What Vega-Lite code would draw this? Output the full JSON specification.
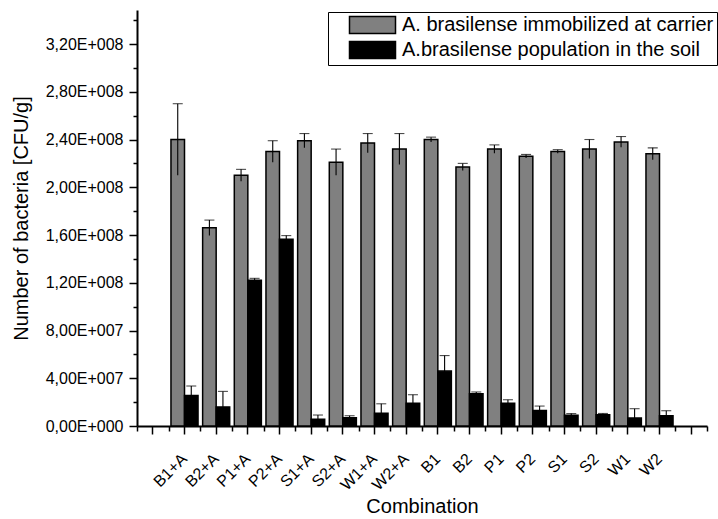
{
  "$schema": "https://vega.github.io/schema/vega-lite/v6.json",
  "width": 570,
  "height": 416,
  "autosize": {"type": "none"},
  "padding": {"left": 137, "top": 10, "right": 11, "bottom": 93},
  "config": {
    "view": {"stroke": null},
    "font": "Liberation Sans",
    "axis": {"labelFont": "Liberation Sans", "titleFont": "Liberation Sans", "labelColor": "black", "titleColor": "black", "domainColor": "black", "tickColor": "black", "grid": false, "titleFontWeight": "normal"},
    "legend": {"labelFont": "Liberation Sans"}
  },
  "data": {"values": [
    {"combo": "B1+A", "series": "A. brasilense immobilized at carrier", "value": 240000000, "lo": 210000000, "hi": 270000000},
    {"combo": "B2+A", "series": "A. brasilense immobilized at carrier", "value": 166000000, "lo": 159500000, "hi": 172500000},
    {"combo": "P1+A", "series": "A. brasilense immobilized at carrier", "value": 210000000, "lo": 205000000, "hi": 215000000},
    {"combo": "P2+A", "series": "A. brasilense immobilized at carrier", "value": 230000000, "lo": 221000000, "hi": 239000000},
    {"combo": "S1+A", "series": "A. brasilense immobilized at carrier", "value": 239000000, "lo": 233000000, "hi": 245000000},
    {"combo": "S2+A", "series": "A. brasilense immobilized at carrier", "value": 221000000, "lo": 210000000, "hi": 232000000},
    {"combo": "W1+A", "series": "A. brasilense immobilized at carrier", "value": 237000000, "lo": 229000000, "hi": 245000000},
    {"combo": "W2+A", "series": "A. brasilense immobilized at carrier", "value": 232000000, "lo": 219000000, "hi": 245000000},
    {"combo": "B1", "series": "A. brasilense immobilized at carrier", "value": 240000000, "lo": 238000000, "hi": 242000000},
    {"combo": "B2", "series": "A. brasilense immobilized at carrier", "value": 217000000, "lo": 214000000, "hi": 220000000},
    {"combo": "P1", "series": "A. brasilense immobilized at carrier", "value": 232000000, "lo": 228500000, "hi": 235500000},
    {"combo": "P2", "series": "A. brasilense immobilized at carrier", "value": 226000000, "lo": 224500000, "hi": 227500000},
    {"combo": "S1", "series": "A. brasilense immobilized at carrier", "value": 230000000, "lo": 228500000, "hi": 231500000},
    {"combo": "S2", "series": "A. brasilense immobilized at carrier", "value": 232000000, "lo": 224000000, "hi": 240000000},
    {"combo": "W1", "series": "A. brasilense immobilized at carrier", "value": 238000000, "lo": 233500000, "hi": 242500000},
    {"combo": "W2", "series": "A. brasilense immobilized at carrier", "value": 228000000, "lo": 223000000, "hi": 233000000},
    {"combo": "B1+A", "series": "A.brasilense population in the soil", "value": 25500000, "lo": 17500000, "hi": 33500000},
    {"combo": "B2+A", "series": "A.brasilense population in the soil", "value": 16000000, "lo": 3000000, "hi": 29000000},
    {"combo": "P1+A", "series": "A.brasilense population in the soil", "value": 122000000, "lo": 120300000, "hi": 123700000},
    {"combo": "P2+A", "series": "A.brasilense population in the soil", "value": 156500000, "lo": 153500000, "hi": 159500000},
    {"combo": "S1+A", "series": "A.brasilense population in the soil", "value": 5600000, "lo": 2000000, "hi": 9200000},
    {"combo": "S2+A", "series": "A.brasilense population in the soil", "value": 7000000, "lo": 5400000, "hi": 8600000},
    {"combo": "W1+A", "series": "A.brasilense population in the soil", "value": 10600000, "lo": 2600000, "hi": 18600000},
    {"combo": "W2+A", "series": "A.brasilense population in the soil", "value": 19000000, "lo": 11800000, "hi": 26200000},
    {"combo": "B1", "series": "A.brasilense population in the soil", "value": 46000000, "lo": 33000000, "hi": 59000000},
    {"combo": "B2", "series": "A.brasilense population in the soil", "value": 27000000, "lo": 25500000, "hi": 28500000},
    {"combo": "P1", "series": "A.brasilense population in the soil", "value": 19000000, "lo": 16000000, "hi": 22000000},
    {"combo": "P2", "series": "A.brasilense population in the soil", "value": 13000000, "lo": 9300000, "hi": 16700000},
    {"combo": "S1", "series": "A.brasilense population in the soil", "value": 9000000, "lo": 7600000, "hi": 10400000},
    {"combo": "S2", "series": "A.brasilense population in the soil", "value": 9500000, "lo": 8500000, "hi": 10500000},
    {"combo": "W1", "series": "A.brasilense population in the soil", "value": 6700000, "lo": 0, "hi": 14500000},
    {"combo": "W2", "series": "A.brasilense population in the soil", "value": 8600000, "lo": 4400000, "hi": 12800000}
  ]},
  "resolve": {"axis": {"x": "independent", "y": "independent"}},
  "layer": [
    {
      "mark": {"type": "bar", "stroke": "black", "strokeWidth": 1.5},
      "encoding": {
        "x": {"field": "combo", "type": "nominal",
          "scale": {"domain": ["_a", "B1+A", "B2+A", "P1+A", "P2+A", "S1+A", "S2+A", "W1+A", "W2+A", "B1", "B2", "P1", "P2", "S1", "S2", "W1", "W2", "_b"], "paddingInner": 0, "paddingOuter": 0},
          "axis": {"orient": "bottom", "title": "Combination", "titleFontSize": 20, "titlePadding": 4, "labelFontSize": 16, "labelAngle": -45, "labelAlign": "right", "labelBaseline": "middle", "labelPadding": 22, "tickSize": 8, "tickWidth": 1.5, "domainWidth": 2, "tickBand": "center",
            "labelExpr": "indexof(datum.value, '_') == 0 ? '' : datum.value"}},
        "xOffset": {"field": "series", "type": "nominal",
          "scale": {"domain": ["A. brasilense immobilized at carrier", "A.brasilense population in the soil"], "paddingInner": 0, "paddingOuter": 0.17}},
        "y": {"field": "value", "type": "quantitative",
          "scale": {"domain": [0, 348500000], "nice": false, "zero": true},
          "axis": {"orient": "left", "title": "Number of bacteria [CFU/g]", "titleFontSize": 20, "titlePadding": 14, "labelFontSize": 16, "labelPadding": 6, "tickSize": 8, "tickWidth": 1.5, "domainWidth": 2,
            "values": [0, 40000000, 80000000, 120000000, 160000000, 200000000, 240000000, 280000000, 320000000],
            "labelExpr": "replace(replace(format(datum.value, '.2e'), '.', ','), 'e+', 'E+00')"}},
        "color": {"field": "series", "type": "nominal",
          "scale": {"domain": ["A. brasilense immobilized at carrier", "A.brasilense population in the soil"], "range": ["#808080", "#000000"]},
          "legend": {"title": null, "orient": "none", "legendX": 191, "legendY": 2, "strokeColor": "black", "padding": 3, "fillColor": "white",
            "labelFontSize": 20, "labelColor": "black", "labelOffset": 19.5, "labelLimit": 400, "rowPadding": 1, "symbolOffset": 31.5,
            "symbolType": "M-2.706,-1H2.706V1H-2.706Z", "symbolSize": 289, "symbolStrokeColor": "black", "symbolStrokeWidth": 1.5}}
      }
    },
    {
      "mark": {"type": "rule", "color": "black", "strokeWidth": 1.1},
      "encoding": {
        "x": {"field": "combo", "type": "nominal",
          "axis": {"orient": "bottom", "title": null, "labels": false, "domain": false, "tickSize": 5, "tickWidth": 1.5, "tickBand": "extent"}},
        "xOffset": {"field": "series", "type": "nominal"},
        "y": {"field": "lo", "type": "quantitative",
          "axis": {"orient": "left", "title": null, "labels": false, "domain": false, "tickSize": 4, "tickWidth": 1.5,
            "values": [20000000, 60000000, 100000000, 140000000, 180000000, 220000000, 260000000, 300000000, 340000000]}},
        "y2": {"field": "hi"}
      }
    },
    {
      "mark": {"type": "tick", "color": "black", "thickness": 1.1, "size": 10, "orient": "horizontal"},
      "encoding": {
        "x": {"field": "combo", "type": "nominal", "axis": null},
        "xOffset": {"field": "series", "type": "nominal"},
        "y": {"field": "hi", "type": "quantitative", "axis": null}
      }
    }
  ]
}
